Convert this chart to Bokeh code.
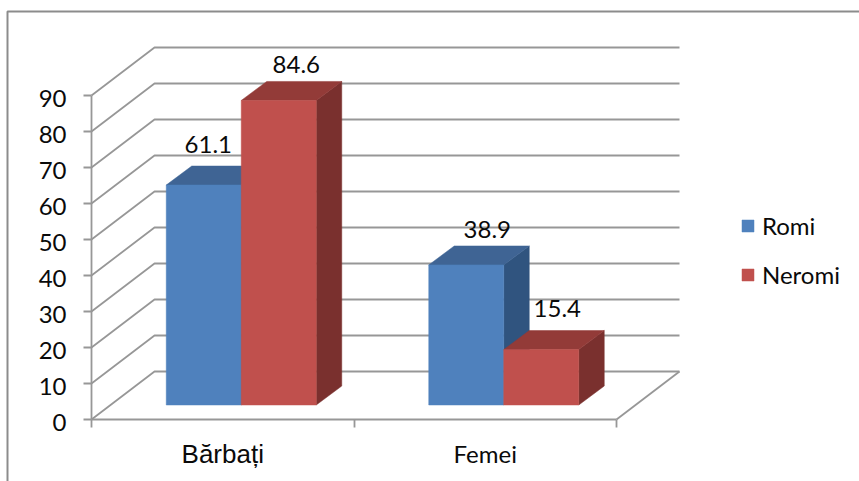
from bokeh.plotting import figure
from bokeh.models import (ColumnDataSource, LinearAxis, FixedTicker, Legend, LegendItem, Range1d)
from bokeh.core.properties import value
from bokeh.embed import file_html
from bokeh.resources import INLINE

categories = ["Bărbați", "Femei"]
series_names = ["Romi", "Neromi"]
romi = [61.1, 38.9]
neromi = [84.6, 15.4]
y_ticks = [0, 10, 20, 30, 40, 50, 60, 70, 80, 90]

W, H = 859, 481
X0, Y0 = 91.0, 419.0          # canvas pixel of the chart origin
PX_X, PX_Y = 262.5, 3.6       # pixels per category, per value unit
WALL_DX, WALL_DY = 63 / PX_X, 48 / PX_Y
DEPTH_DX, DEPTH_DY = 25.5 / PX_X, 19 / PX_Y
FLOOR_DX, FLOOR_DY = 18.5 / PX_X, 14.5 / PX_Y
BAR_W = 75 / PX_X
GRID = "#979797"
FONT = "Lato"
TEXT = "#0a0a0a"

p = figure(width=W, height=H, output_backend="svg", toolbar_location=None,
           x_range=Range1d(-X0 / PX_X, (W - X0) / PX_X),
           y_range=Range1d((Y0 - H) / PX_Y, Y0 / PX_Y),
           x_axis_type=None, y_axis_type=None, min_border=0,
           min_border_left=0, min_border_right=0, min_border_top=0, min_border_bottom=0,
           outline_line_color=None, background_fill_color="white", border_fill_color="white")
p.grid.visible = False

# chart frame (top and left edges only reach the picture)
fx = (7 - X0) / PX_X
fy = (Y0 - 11) / PX_Y
p.line([fx, fx, (W - X0) / PX_X], [(Y0 - H) / PX_Y, fy, fy], line_color="#8c8c8c", line_width=2)

# wall gridlines and floor
n = len(categories)
xs = [[0, WALL_DX, n + WALL_DX] for _ in y_ticks]
ys = [[v, v + WALL_DY, v + WALL_DY] for v in y_ticks]
p.multi_line(xs, ys, line_color=GRID, line_width=1.8)
p.line([n, n + WALL_DX], [0, WALL_DY], line_color=GRID, line_width=1.8)

# axes
ya = LinearAxis(fixed_location=0, bounds=(0, 90), ticker=FixedTicker(ticks=y_ticks))
ya.major_tick_in = 0; ya.major_tick_out = 8; ya.minor_tick_out = 0; ya.minor_tick_in = 0
ya.axis_line_color = GRID; ya.major_tick_line_color = GRID
ya.axis_line_width = 1.8; ya.major_tick_line_width = 1.8
ya.major_label_overrides = {v: " " for v in y_ticks}
p.add_layout(ya, "left")
xa = LinearAxis(fixed_location=0, bounds=(0, n), ticker=FixedTicker(ticks=list(range(n + 1))))
xa.major_tick_in = 0; xa.major_tick_out = 8; xa.minor_tick_out = 0; xa.minor_tick_in = 0
xa.axis_line_color = GRID; xa.major_tick_line_color = GRID
xa.axis_line_width = 1.8; xa.major_tick_line_width = 1.8
xa.major_label_overrides = {i: " " for i in range(n + 1)}
p.add_layout(xa, "below")

# y tick labels
p.text([0] * len(y_ticks), y_ticks, text=[str(v) for v in y_ticks], text_font=value(FONT),
       text_font_size="24px", text_color=TEXT, text_align="right", text_baseline="alphabetic",
       x_offset=-25, y_offset=3)

colors = {
    "Romi": ("#4F81BD", "#3F6494", "#30547F"),
    "Neromi": ("#C0504D", "#933B38", "#7A302E"),
}
label_dx = {"Romi": [4.5, 21], "Neromi": [17.5, 16]}
label_dy = {"Romi": [41, 35], "Neromi": [36, 41]}

renderers = {}
for s, (name, vals) in enumerate(zip(series_names, [romi, neromi])):
    front, top, side = colors[name]
    lefts = [i + 0.5 + FLOOR_DX + (s - 1) * BAR_W for i in range(n)]
    rights = [l + BAR_W for l in lefts]
    tops = [v + FLOOR_DY for v in vals]
    base = [FLOOR_DY] * n
    p.patches([[r, r + DEPTH_DX, r + DEPTH_DX, r] for r in rights],
              [[b, b + DEPTH_DY, t + DEPTH_DY, t] for b, t in zip(base, tops)],
              fill_color=side, line_color=side, line_width=0.5)
    p.patches([[l, r, r + DEPTH_DX, l + DEPTH_DX] for l, r in zip(lefts, rights)],
              [[t, t, t + DEPTH_DY, t + DEPTH_DY] for t in tops],
              fill_color=top, line_color=top, line_width=0.5)
    src = ColumnDataSource(dict(left=lefts, right=rights, top=tops, bottom=base))
    renderers[name] = p.quad(left="left", right="right", top="top", bottom="bottom", source=src,
                             fill_color=front, line_color=front, line_width=0.5)

# data labels
for s, (name, vals) in enumerate(zip(series_names, [romi, neromi])):
    for i, v in enumerate(vals):
        cx = i + 0.5 + FLOOR_DX + (s - 0.5) * BAR_W
        p.text([cx], [v + FLOOR_DY], text=[f"{v}"], text_font=value(FONT), text_font_size="24px",
               text_color=TEXT, text_align="center", text_baseline="alphabetic",
               x_offset=label_dx[name][i], y_offset=-label_dy[name][i])

# category labels
p.text([0.5], [0], text=[categories[0]], text_font=value("Liberation Sans"), text_font_size="26px",
       text_color=TEXT, text_align="center", text_baseline="alphabetic", y_offset=34)
p.text([1.5], [0], text=[categories[1]], text_font=value(FONT), text_font_size="24px",
       text_color=TEXT, text_align="center", text_baseline="alphabetic", y_offset=34)

legend = Legend(items=[LegendItem(label=k, renderers=[renderers[k]]) for k in series_names],
                location=(740, H - 289), orientation="vertical", background_fill_alpha=0, border_line_alpha=0,
                padding=0, margin=0, spacing=20, glyph_width=15, glyph_height=15, label_standoff=7,
                label_height=24, label_text_font=FONT, label_text_font_size="24px", label_text_color=TEXT)
p.add_layout(legend, "center")

open("out.html", "w").write(file_html(p, INLINE))
